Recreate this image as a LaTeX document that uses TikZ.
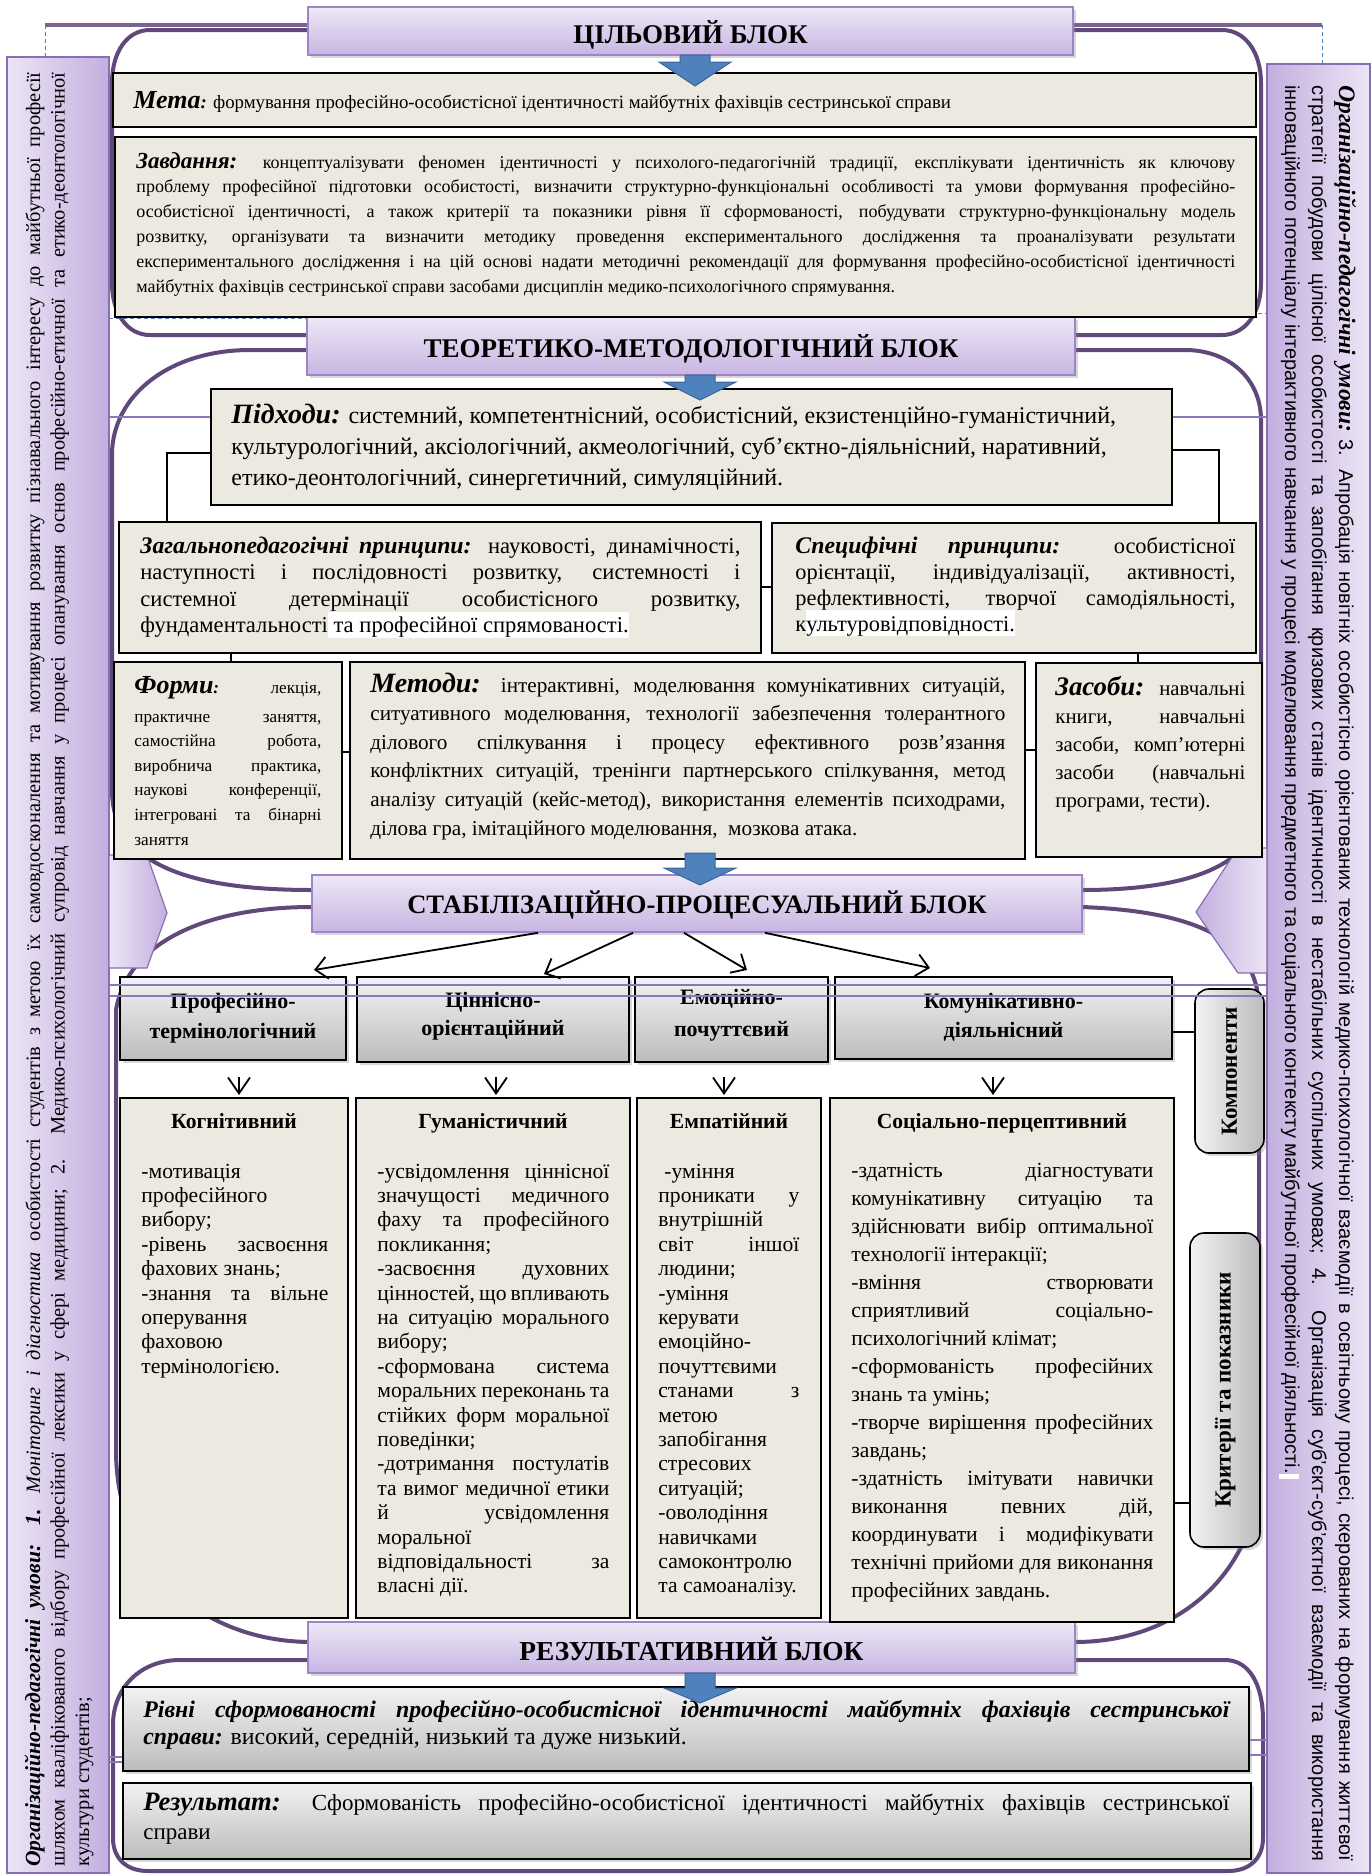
\documentclass[tikz,border=0pt]{standalone}
\usepackage{fontspec}
\setmainfont{Liberation Serif}
\newfontfamily\sansf{Liberation Sans}
\usetikzlibrary{shadows,fit,arrows.meta}
\definecolor{beigec}{HTML}{ECEAE0}
\definecolor{ttop}{HTML}{EEE8F6}
\definecolor{tbot}{HTML}{C7B5E2}
\definecolor{tbord}{HTML}{9E85C8}
\definecolor{plight}{HTML}{ECE5F5}
\definecolor{pdark}{HTML}{C3AEDF}
\definecolor{pbord}{HTML}{8A6DB3}
\definecolor{outc}{HTML}{60497A}
\definecolor{thinl}{HTML}{8E76B8}
\definecolor{gtop}{HTML}{F2F2F2}
\definecolor{gbot}{HTML}{BCBCBC}
\definecolor{arrf}{HTML}{4F81BD}
\definecolor{arrd}{HTML}{3A659A}
\definecolor{dashc}{HTML}{4F81BD}
\newcommand\fs[2]{\fontsize{#1}{#2}\selectfont}
\newcommand\bi[1]{\textbf{\textit{#1}}}
\newcommand\bx[6]{\node[#2, fit={(#3,#4) (#5,#6)}, inner sep=0pt] (#1) {};}
\newcommand\tx[5]{\node[anchor=base west, inner sep=0pt] (#1) at (#2,#3) {\parbox[t]{#4}{#5}};}
\newcommand\barrow[4]{\path[barr] (#1-15,#2) -- (#1-15,#3) -- (#1-36,#3) -- (#1,#4) -- (#1+36,#3) -- (#1+15,#3) -- (#1+15,#2) -- cycle;}
\newcommand\sline[1]{\makebox[\linewidth][s]{#1}}
\tolerance=10000 \hbadness=10000 \hfuzz=100pt \exhyphenpenalty=10000 \hyphenpenalty=10000
\setlength\fboxsep{0pt}
\begin{document}
\begin{tikzpicture}[x=0.5pt,y=-0.5pt,
  titlebox/.style={draw=tbord, line width=0.8pt, top color=ttop, bottom color=tbot, drop shadow={opacity=0.3,shadow xshift=1.5pt,shadow yshift=-1.5pt}},
  thickbox/.style={draw=black, line width=1.3pt, fill=beigec},
  thinbox/.style={draw=black, line width=0.6pt, fill=beigec},
  critbox/.style={draw=black, line width=1.1pt, fill=beigec},
  graybox/.style={draw=black, line width=0.8pt, top color=gtop, bottom color=gbot, drop shadow={opacity=0.3,shadow xshift=1.5pt,shadow yshift=-1.5pt}},
  sidebox/.style={draw=black, line width=0.8pt, rounded corners=7pt, left color=gtop, right color=gbot, drop shadow={opacity=0.3,shadow xshift=1.5pt,shadow yshift=-1.5pt}},
  panel/.style={draw=pbord, line width=0.6pt},
  outl/.style={draw=outc, line width=2pt},
  topbar/.style={draw=outc!85!white, line width=2pt},
  thinline/.style={draw=thinl, line width=0.7pt},
  conn/.style={draw=black, line width=1pt},
  dashl/.style={draw=dashc, line width=0.4pt, dash pattern=on 2pt off 1.5pt},
  barr/.style={fill=arrf, draw=arrd, line width=0.5pt},
  oarr/.style={draw=black, line width=0.9pt, -{Straight Barb[length=6pt,width=11pt]}},
  varr/.style={draw=black, line width=0.9pt, -{Straight Barb[length=8pt,width=11pt]}},
  ttl/.style={font=\bfseries\fs{13.5}{16}, inner sep=0pt, anchor=base},
  lbl/.style={inner sep=0pt, anchor=base},
]
\fill[white] (0,0) rectangle (1371,1874);
\path[use as bounding box] (0,0) rectangle (1371,1874);

% decorative top bar and dashed guides
\draw[topbar] (45,25) -- (1322,25);
\draw[dashl] (45,25) -- (45,240);
\draw[dashl] (1322,25) -- (1322,64);
\draw[dashl] (109,318) -- (307,318);
\draw[dashl] (1258,313) -- (1267,313);

% block outlines
\draw[outl] (700,30) -- (150,30) .. controls (127,30) and (112,52) .. (112,83) -- (112,283) .. controls (112,313) and (127,335) .. (150,335) -- (1222,335) .. controls (1245,335) and (1261,313) .. (1261,283) -- (1261,83) .. controls (1261,52) and (1245,30) .. (1222,30) -- cycle;
\draw[outl] (700,350) -- (250,350) .. controls (170,350) and (112,395) .. (112,455) -- (112,790) .. controls (112,860) and (180,890) .. (312,890) -- (1082,890) .. controls (1190,890) and (1261,865) .. (1261,800) -- (1261,420) .. controls (1261,378) and (1228,350) .. (1185,350) -- cycle;
\draw[outl] (700,907) -- (312,907) .. controls (210,907) and (128,940) .. (116,1010) -- (116,1450) .. controls (116,1565) and (200,1642) .. (312,1642) -- (1075,1642) .. controls (1185,1642) and (1259,1565) .. (1259,1470) -- (1259,1010) .. controls (1259,950) and (1215,912) .. (1082,907) -- cycle;
\draw[outl] (700,1660) -- (180,1660) .. controls (140,1660) and (113,1688) .. (113,1725) -- (113,1838) .. controls (113,1858) and (126,1871) .. (148,1871) -- (1228,1871) .. controls (1250,1871) and (1263,1858) .. (1263,1838) -- (1263,1720) .. controls (1263,1686) and (1250,1660) .. (1225,1660) -- cycle;

% side panels
\bx{lp}{panel, left color=plight, right color=pdark}{7}{57}{109}{1873}
\bx{rp}{panel, left color=pdark, right color=plight}{1267}{64}{1370}{1873}

\node[rotate=90, anchor=base west, inner sep=0pt] (lpt) at (40,1867) {\parbox[t]{897pt}{\fs{10.2}{12.25}\sline{\bi{\fs{10.8}{12.25}Організаційно-педагогічні умови: 1.}\hspace{0.8em}\textit{Моніторинг і діагностика} особистості студентів з метою їх самовдосконалення та мотивування розвитку пізнавального інтересу до майбутньої професії}\\
\sline{шляхом кваліфікованого відбору професійної лексики у сфері медицини; 2. Медико-психологічний супровід навчання у процесі опанування основ професійно-етичної та етико-деонтологічної}\\
культури студентів;}};

\node[rotate=-90, anchor=base west, inner sep=0pt] (rpt) at (1339,85) {\parbox[t]{888pt}{\fs{10}{13.5}\bi{\fs{11.8}{13.5}Організаційно-педагогічні умови:}\sansf\ 3. Апробація новітніх особистісно орієнтованих технологій медико-психологічної взаємодії в освітньому процесі, скерованих на формування життєвої\linebreak стратегії побудови цілісної особистості та запобігання кризових станів ідентичності в нестабільних суспільних умовах; 4. Організація суб’єкт-суб’єктної взаємодії та використання\linebreak інноваційного потенціалу інтерактивного навчання у процесі моделювання предметного та соціального контексту майбутньої професійної діяльності.\colorbox{white}{\rule[-3pt]{0pt}{10pt}\kern2.5pt}}};

% chevrons
\path[panel, left color=plight, right color=pdark] (109,855) -- (147,855) -- (167,913) -- (147,968) -- (109,968) -- cycle;
\path[panel, left color=pdark, right color=plight] (1267,848) -- (1238,848) -- (1196,912) -- (1238,973) -- (1267,973) -- cycle;

% titles
\bx{t1}{titlebox}{308}{7}{1073}{55}
\bx{t2}{titlebox}{307}{317}{1075}{375}
\bx{t3}{titlebox}{312}{875}{1082}{932}
\bx{t4}{titlebox}{308}{1622}{1075}{1673}
\node[ttl] at (t1.center |- 0,43) {ЦІЛЬОВИЙ БЛОК};
\node[ttl] at (t2.center |- 0,357) {ТЕОРЕТИКО-МЕТОДОЛОГІЧНИЙ БЛОК};
\node[ttl, font=\bfseries\fs{13.3}{16}] at (t3.center |- 0,913) {СТАБІЛІЗАЦІЙНО-ПРОЦЕСУАЛЬНИЙ БЛОК};
\node[ttl, font=\bfseries\fs{13.7}{16}] at (t4.center |- 0,1660) {РЕЗУЛЬТАТИВНИЙ БЛОК};

% target block
\bx{meta}{thickbox}{113}{73}{1256}{127}
\bx{zav}{thickbox}{115}{137}{1256}{317}
\tx{metat}{133}{108}{560pt}{\fs{9.4}{12}\bi{\fs{13}{15}Мета}\bi{:} формування професійно-особистісної ідентичності майбутніх фахівців сестринської справи}
\tx{zavt}{136}{168}{549.5pt}{\fs{9}{12.4}\bi{\fs{11.5}{12.4}Завдання:} концептуалізувати феномен ідентичності у психолого-педагогічній традиції, експлікувати ідентичність як ключову\linebreak проблему професійної підготовки особистості, визначити структурно-функціональні особливості та умови формування професійно-\linebreak особистісної ідентичності, а також критерії та показники рівня її сформованості, побудувати структурно-функціональну модель\linebreak розвитку, організувати та визначити методику проведення експериментального дослідження та проаналізувати результати\linebreak експериментального дослідження і на цій основі надати методичні рекомендації для формування професійно-особистісної ідентичності\linebreak майбутніх фахівців сестринської справи засобами дисциплін медико-психологічного спрямування.}

% theoretical block
\bx{pid}{thickbox}{211}{389}{1172}{505}
\bx{zag}{thickbox}{119}{522}{761}{653}
\bx{spec}{thickbox}{772}{523}{1256}{653}
\bx{form}{thinbox}{114}{662}{342}{859}
\bx{meth}{thinbox}{350}{662}{1025}{859}
\bx{zas}{thinbox}{1036}{663}{1262}{857}

\coordinate (c417) at (0,417);
\draw[thinline] (lp.east |- c417) -- (pid.west |- c417);
\draw[thinline] (pid.east |- c417) -- (rp.west |- c417);

\coordinate (p1) at (167,453);
\coordinate (p2) at (1219,450);
\coordinate (p3) at (0,587);
\coordinate (p4) at (231,0);
\coordinate (p5) at (1138,0);
\coordinate (p6) at (0,752);
\coordinate (p7) at (0,750);
\draw[conn] (pid.west |- p1) -| (zag.north -| p1);
\draw[conn] (pid.east |- p2) -| (spec.north -| p2);
\draw[conn] (zag.east |- p3) -- (spec.west |- p3);
\draw[conn] (zag.south -| p4) -- (form.north -| p4);
\draw[conn] (spec.south -| p5) -- (zas.north -| p5);
\draw[conn] (form.east |- p6) -- (meth.west |- p6);
\draw[conn] (meth.east |- p7) -- (zas.west |- p7);

\tx{pidt}{231}{423}{470pt}{\raggedright\fs{12}{15.5}\bi{\fs{14}{15.5}Підходи:} системний, компетентнісний, особистісний, екзистенційно-гуманістичний,\\ культурологічний, аксіологічний, акмеологічний, суб’єктно-діяльнісний, наративний,\\ етико-деонтологічний, синергетичний, симуляційний.}
\tx{zagt}{140}{553}{300pt}{\fs{11.3}{13.3}\bi{\fs{11.9}{13.3}Загальнопедагогічні принципи:} науковості, динамічності,\linebreak наступності і послідовності розвитку, системності і\linebreak системної детермінації особистісного розвитку,\linebreak фундаментальності\colorbox{white}{\rule[-2.5pt]{0pt}{13pt}\ та професійної спрямованості.}}
\tx{spect}{795}{553}{220pt}{\fs{11.2}{13}\bi{\fs{11.9}{13}Специфічні принципи:} особистісної\linebreak орієнтації, індивідуалізації, активності,\linebreak рефлективності, творчої самодіяльності,\linebreak к\colorbox{white}{\rule[-2.5pt]{0pt}{13pt}ультуровідповідності.}}
\tx{formt}{134}{693}{93.5pt}{\fs{8.6}{12.3}\makebox[\linewidth][s]{\bi{\fs{13}{12.3}Форми}\bi{:} лекція,}\par\vspace{2.2pt}практичне заняття,\linebreak самостійна робота,\linebreak виробнича практика,\linebreak наукові конференції,\linebreak інтегровані та бінарні\linebreak заняття}
\tx{metht}{370}{692}{317.5pt}{\fs{10.6}{14.3}\bi{\fs{14}{14.3}Методи:} інтерактивні, моделювання комунікативних ситуацій,\linebreak ситуативного моделювання, технології забезпечення толерантного\linebreak ділового спілкування і процесу ефективного розв’язання\linebreak конфліктних ситуацій, тренінги партнерського спілкування, метод\linebreak аналізу ситуацій (кейс-метод), використання елементів психодрами,\linebreak ділова гра, імітаційного моделювання,\ \ мозкова атака.}
\tx{zast}{1055}{695}{95pt}{\fs{10.4}{14}\bi{\fs{13.4}{14}Засоби:} навчальні\linebreak книги, навчальні\linebreak засоби, комп’ютерні\linebreak засоби (навчальні\linebreak програми, тести).}

% stabilisation block
\bx{c1}{graybox}{120}{977}{346}{1060}
\bx{c2}{graybox}{357}{977}{629}{1062}
\bx{c3}{graybox}{635}{977}{828}{1062}
\bx{c4}{graybox}{835}{977}{1172}{1059}
\bx{komp}{sidebox}{1195}{989}{1264}{1153}
\bx{k1}{critbox}{120}{1098}{348}{1618}
\bx{k2}{critbox}{356}{1098}{630}{1618}
\bx{k3}{critbox}{637}{1098}{821}{1618}
\bx{k4}{critbox}{830}{1098}{1174}{1622}
\bx{krit}{sidebox}{1190}{1233}{1260}{1547}

\coordinate (e1) at (314,970);
\coordinate (e2) at (544,974);
\coordinate (e3) at (747,970);
\coordinate (e4) at (930,968);
\draw[oarr] (t3.south -| 538,0) -- (e1);
\draw[oarr] (t3.south -| 633,0) -- (e2);
\draw[oarr] (t3.south -| 684,0) -- (e3);
\draw[oarr] (t3.south -| 765,0) -- (e4);

\coordinate (v1) at (239,1077); \coordinate (w1) at (239,1095);
\coordinate (v2) at (496,1077); \coordinate (w2) at (496,1095);
\coordinate (v3) at (724,1077); \coordinate (w3) at (724,1095);
\coordinate (v4) at (993,1077); \coordinate (w4) at (993,1095);
\draw[varr] (v1) -- (w1);
\draw[varr] (v2) -- (w2);
\draw[varr] (v3) -- (w3);
\draw[varr] (v4) -- (w4);

\coordinate (q1) at (0,1032);
\coordinate (q2) at (0,1503);
\draw[conn, line width=1.3pt] (c4.east |- q1) -- (komp.west |- q1);
\draw[conn, line width=1.3pt] (k4.east |- q2) -- (krit.west |- q2);

\node[lbl] at (c1.center |- 0,1008) {\parbox[t]{200pt}{\centering\bfseries\fs{11}{15}Професійно-\\термінологічний}};
\node[lbl] at (c2.center |- 0,1007) {\parbox[t]{200pt}{\centering\bfseries\fs{11}{14.2}Ціннісно-\\орієнтаційний}};
\node[lbl] at (c3.center |- 0,1004) {\parbox[t]{200pt}{\centering\bfseries\fs{11}{16}Емоційно-\\почуттєвий}};
\node[lbl] at (c4.center |- 0,1008) {\parbox[t]{200pt}{\centering\bfseries\fs{11}{14.5}Комунікативно-\\діяльнісний}};
\node[rotate=90, font=\bfseries\fs{11.5}{13}] at (komp.center) {Компоненти};
\node[rotate=90, font=\bfseries\fs{11.5}{13}] at (krit.center) {Критерії та показники};

\node[lbl, font=\bfseries\fs{10.8}{12}] at (k1.center |- 0,1128) {Когнітивний};
\node[lbl, font=\bfseries\fs{10.8}{12}] at (k2.center |- 0,1128) {Гуманістичний};
\node[lbl, font=\bfseries\fs{10.8}{12}] at (k3.center |- 0,1128) {Емпатійний};
\node[lbl, font=\bfseries\fs{10.8}{12}] at (k4.center |- 0,1128) {Соціально-перцептивний};

\tx{k1t}{141}{1178}{93.5pt}{\fs{10.8}{12.2}-мотивація\linebreak професійного\linebreak вибору;\par -рівень засвоєння\linebreak фахових знань;\par -знання та вільне\linebreak оперування\linebreak фаховою\linebreak термінологією.}
\tx{k2t}{377}{1178}{116pt}{\fs{10.8}{12.2}-усвідомлення ціннісної\linebreak значущості медичного\linebreak фаху та професійного\linebreak покликання;\par -засвоєння духовних\linebreak цінностей, що впливають\linebreak на ситуацію морального\linebreak вибору;\par -сформована система\linebreak моральних переконань та\linebreak стійких форм моральної\linebreak поведінки;\par -дотримання постулатів\linebreak та вимог медичної етики\linebreak й усвідомлення\linebreak моральної\linebreak відповідальності за\linebreak власні дії.}
\tx{k3t}{658}{1178}{70.5pt}{\fs{10.8}{12.2}\hspace*{3pt}-уміння\linebreak проникати у\linebreak внутрішній\linebreak світ іншої\linebreak людини;\par -уміння\linebreak керувати\linebreak емоційно-\linebreak почуттєвими\linebreak станами з\linebreak метою\linebreak запобігання\linebreak стресових\linebreak ситуацій;\par -оволодіння\linebreak навичками\linebreak самоконтролю\linebreak та самоаналізу.}
\tx{k4t}{851}{1177}{151pt}{\fs{10.8}{14.03}-здатність діагностувати\linebreak комунікативну ситуацію та\linebreak здійснювати вибір оптимальної\linebreak технології інтеракції;\par -вміння створювати\linebreak сприятливий соціально-\linebreak психологічний клімат;\par -сформованість професійних\linebreak знань та умінь;\par -творче вирішення професійних\linebreak завдань;\par -здатність імітувати навички\linebreak виконання певних дій,\linebreak координувати і модифікувати\linebreak технічні прийоми для виконання\linebreak професійних завдань.}

% result block
\bx{riv}{graybox}{123}{1687}{1249}{1771}
\bx{res}{graybox}{123}{1783}{1251}{1859}
\tx{rivt}{143}{1717}{543pt}{\fs{11.9}{13.5}\bi{Рівні сформованості професійно-особистісної ідентичності майбутніх фахівців сестринської\linebreak справи:} високий, середній, низький та дуже низький.}
\tx{rest}{143}{1810}{543pt}{\fs{11.5}{14.5}\bi{\fs{13.3}{14.5}Результат:} Сформованість професійно-особистісної ідентичності майбутніх фахівців сестринської\linebreak справи}

% thin lavender lines
\coordinate (l1) at (0,985);
\coordinate (l2) at (0,996);
\draw[thinline] (lp.east |- l1) -- (rp.west |- l1);
\draw[thinline] (lp.east |- l2) -- (rp.west |- l2);
\coordinate (l3) at (0,1757);
\coordinate (l4) at (0,1762);
\coordinate (l5) at (0,1740);
\coordinate (l6) at (0,1755);
\draw[thinline] (lp.east |- l3) -- (riv.west |- l3);
\draw[thinline] (lp.east |- l4) -- (riv.west |- l4);
\draw[thinline] (riv.east |- l5) -- (rp.west |- l5);
\draw[thinline] (riv.east |- l6) -- (rp.west |- l6);

% blue block arrows
\barrow{695}{55}{62}{86}
\barrow{700}{375}{382}{400}
\barrow{700}{853}{868}{885}
\barrow{700}{1673}{1688}{1703}
\end{tikzpicture}
\end{document}
